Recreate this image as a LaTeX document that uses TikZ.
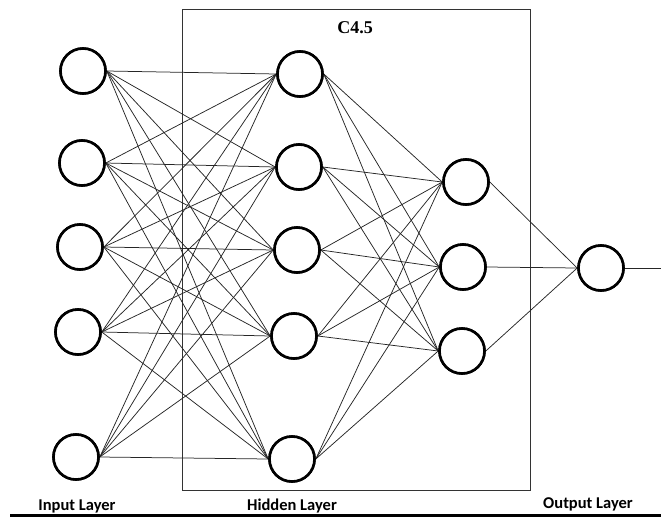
\documentclass[tikz,border=0pt]{standalone}
\usepackage{fontspec}
\setmainfont{Liberation Serif}
\newfontfamily\labfont{Carlito}
\begin{document}
\begin{tikzpicture}[x=1pt,y=-1pt,
  neuron/.style={circle,draw=black,line width=2.6pt,minimum size=45pt,inner sep=0pt,fill=white},
  link/.style={draw=black!85,line width=0.75pt},
  lab/.style={font=\labfont\bfseries\fontsize{16.5}{18}\selectfont,inner sep=0pt}]
\useasboundingbox (0,0) rectangle (661,517);
\draw[black!80,line width=1pt] (182,9) rectangle (530,490);
\node[font=\bfseries\fontsize{18}{20}\selectfont,inner sep=0pt] (title) at (355,28) {C4.5};
% input layer
\node[neuron] (i1) at (83,71) {};
\node[neuron] (i2) at (82,163) {};
\node[neuron] (i3) at (80,247) {};
\node[neuron] (i4) at (78,332) {};
\node[neuron] (i5) at (76,457) {};
% hidden layer
\node[neuron] (h1) at (300,74) {};
\node[neuron] (h2) at (299,167) {};
\node[neuron] (h3) at (297,250) {};
\node[neuron] (h4) at (294,336) {};
\node[neuron] (h5) at (292,459) {};
% third layer
\node[neuron] (t1) at (466,182) {};
\node[neuron] (t2) at (463,267) {};
\node[neuron] (t3) at (462,351) {};
% output
\node[neuron] (o) at (601,268) {};
\coordinate (oend) at (661,268);
\foreach \a in {1,...,5}{
  \foreach \b in {1,...,5}{
    \draw[link] (i\a.east) -- (h\b.west);
  }
  \foreach \b in {1,2,3}{
    \draw[link] (h\a.east) -- (t\b.west);
  }
}
\foreach \b in {1,2,3}{
  \draw[link] (t\b.east) -- (o.west);
}
\draw[link] (o.east) -- (oend);
% redraw neurons on top
\foreach \n in {i1,i2,i3,i4,i5,h1,h2,h3,h4,h5,t1,t2,t3,o}{
  \draw[line width=2.6pt,fill=white] (\n.center) circle (22.5pt);
}
\node[lab] (lin) at (77,506) {Input Layer};
\node[lab] (lhid) at (292,506) {Hidden Layer};
\node[lab] (lout) at (588,504) {Output Layer};
\draw[line width=3pt] (10,515) -- (661,515);
\end{tikzpicture}
\end{document}
